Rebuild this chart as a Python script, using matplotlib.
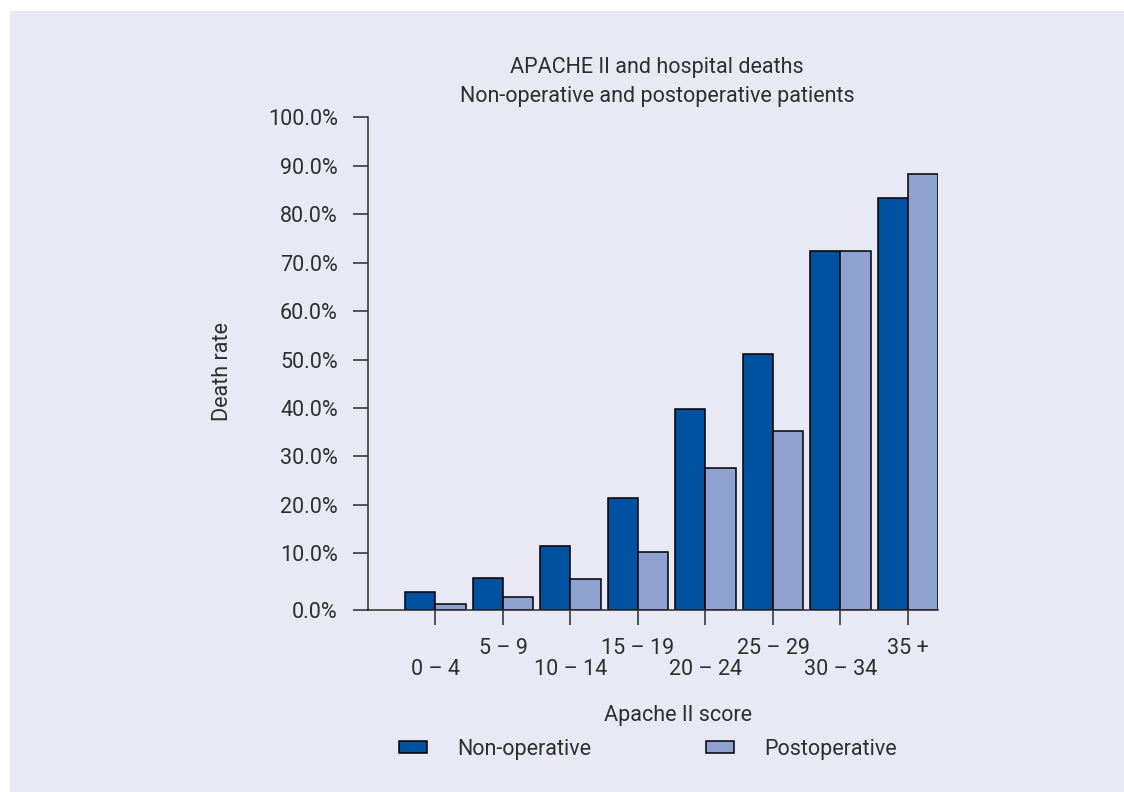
import matplotlib
matplotlib.use("Agg")
import matplotlib.pyplot as plt
from matplotlib.patches import Rectangle, Patch

# data (death rate, %)
groups = ["0 – 4", "5 – 9", "10 – 14", "15 – 19", "20 – 24", "25 – 29", "30 – 34", "35 +"]
non_operative = [3.8, 6.6, 13.3, 23.2, 41.6, 53.0, 74.2, 85.1]
postoperative = [1.2, 2.8, 6.4, 12.1, 29.4, 37.0, 74.2, 90.1]
ytick_values = [10, 20, 30, 40, 50, 60, 70, 80, 90, 100]
# the printed axis: 0.0% sits at the baseline, the other gridmarks are shifted up
TICK_OFFSET = 1.75

BG = "#e9e9f5"
C_NON = "#0052a0"
C_POST = "#8fa1d1"
TXT = "#2e2e2e"
FS = 15.5

plt.rcParams["font.family"] = ["Roboto", "DejaVu Sans"]
plt.rcParams["font.weight"] = "normal"

fig = plt.figure(figsize=(11.24, 7.92), dpi=100)
fig.patch.set_facecolor("white")
fig.patches.append(Rectangle((10 / 1124, 0), 1 - 10 / 1124, 1 - 11 / 792,
                             transform=fig.transFigure, facecolor=BG, edgecolor="none", zorder=-10))

ax = fig.add_axes([368 / 1124, 1 - 610.3 / 792, 570 / 1124, 493 / 792])
ax.patch.set_visible(False)

x = list(range(len(groups)))
w = 0.445
ax.bar([i - w / 2 for i in x], non_operative, width=w, color=C_NON, edgecolor="black", linewidth=1.1, label="Non-operative")
ax.bar([i + w / 2 for i in x], postoperative, width=w, color=C_POST, edgecolor="black", linewidth=1.1, label="Postoperative")

ax.set_xlim(-1.0, len(groups) - 1 + w)
ax.set_ylim(0, 100 + TICK_OFFSET)

for s in ["top", "right"]:
    ax.spines[s].set_visible(False)
for s in ["left", "bottom"]:
    ax.spines[s].set_color("#2b2b2b")
    ax.spines[s].set_linewidth(1.1)

ax.set_yticks([0] + [v + TICK_OFFSET for v in ytick_values])
ax.set_yticklabels(["0.0%"] + ["%.1f%%" % v for v in ytick_values])
ax.tick_params(axis="y", direction="out", length=10.8, width=1.1, color="#2b2b2b",
               pad=11, labelsize=FS, labelcolor=TXT)

ax.set_xticks(x)
ax.set_xticklabels(groups)
ax.tick_params(axis="x", direction="out", length=10.8, width=1.1, color="#2b2b2b",
               labelsize=FS, labelcolor=TXT)
for i, t in enumerate(ax.xaxis.get_major_ticks()):
    t.set_pad(9.5 if i % 2 else 24)

fig.text(657 / 1124, 1 - 82 / 792, "APACHE II and hospital deaths\nNon-operative and postoperative patients",
         ha="center", va="center", fontsize=FS, color=TXT, linespacing=1.55)
fig.text(222 / 1124, 1 - 372 / 792, "Death rate", rotation=90, ha="center", va="center",
         fontsize=FS, color=TXT)
fig.text(678 / 1124, 1 - 716 / 792, "Apache II score", ha="center", va="center",
         fontsize=FS, color=TXT)

handles = [Patch(facecolor=C_NON, edgecolor="black", linewidth=1.1),
           Patch(facecolor=C_POST, edgecolor="black", linewidth=1.1)]
leg = fig.legend(handles, ["Non-operative", "Postoperative"], loc="center",
                 bbox_to_anchor=(648 / 1124, 1 - 749 / 792), ncol=2, frameon=False,
                 fontsize=FS, handlelength=1.3, handleheight=0.5, handletextpad=1.43,
                 columnspacing=5.3)
for t in leg.get_texts():
    t.set_color(TXT)

fig.savefig("out.png", dpi=100, facecolor=fig.get_facecolor())
